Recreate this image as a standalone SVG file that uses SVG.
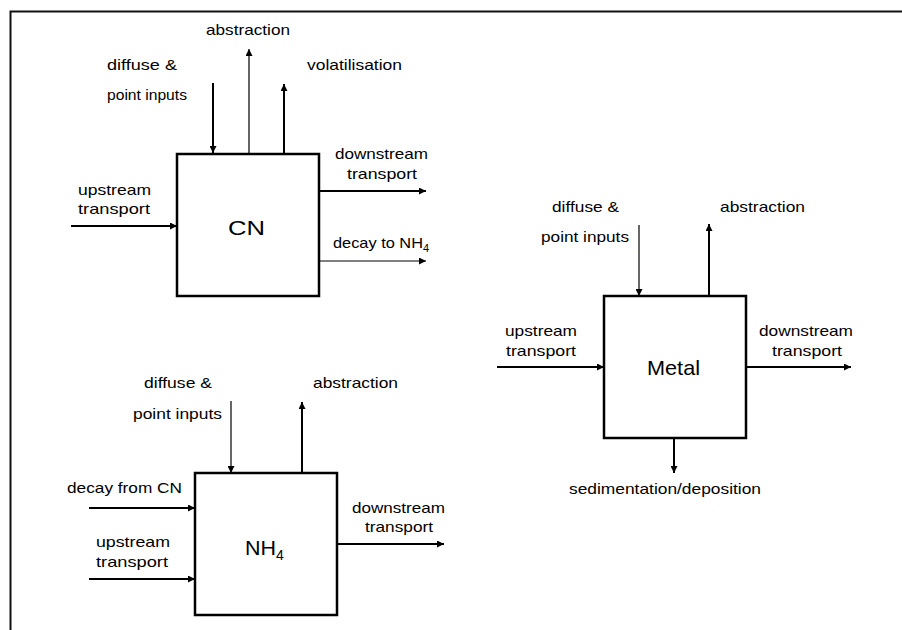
<svg xmlns="http://www.w3.org/2000/svg" width="902" height="630" viewBox="0 0 902 630">
<style>
text{font-family:"Liberation Sans",Arial,sans-serif;font-size:15px;fill:#000}
.big{font-size:21px}
.box{fill:#fff;stroke:#000;stroke-width:2.5}
.a{fill:none;stroke:#000;stroke-width:2;marker-end:url(#ah)}
.t{fill:none;stroke:#000;stroke-width:1.2;marker-end:url(#ah)}
.frame{fill:none;stroke:#111;stroke-width:2}
</style>
<defs>
<marker id="ah" markerUnits="userSpaceOnUse" markerWidth="8" markerHeight="7" refX="7" refY="3.5" orient="auto">
<path d="M0,0 L7,3.5 L0,7 Z" fill="#000"/>
</marker>
</defs>
<rect width="902" height="630" fill="#fff"/>
<path class="frame" d="M10.5,630 V11.5 H902"/>
<g id="connectors">
<!-- CN -->
<line class="a" x1="213" y1="83" x2="213" y2="153"/>
<line class="t" x1="249" y1="153" x2="249" y2="49"/>
<line class="a" x1="284" y1="153" x2="284" y2="84"/>
<line class="a" x1="319" y1="191" x2="426" y2="191"/>
<line class="t" x1="319" y1="261" x2="426" y2="261"/>
<line class="a" x1="71" y1="226" x2="177" y2="226"/>
<!-- Metal -->
<line class="t" x1="639" y1="225" x2="639" y2="296"/>
<line class="a" x1="709" y1="296" x2="709" y2="224"/>
<line class="a" x1="497" y1="367" x2="604" y2="367"/>
<line class="a" x1="746" y1="367" x2="851" y2="367"/>
<line class="a" x1="674" y1="438" x2="674" y2="473"/>
<!-- NH4 -->
<line class="t" x1="231" y1="401" x2="231" y2="473"/>
<line class="a" x1="302" y1="473" x2="302" y2="402"/>
<line class="a" x1="89" y1="508" x2="195" y2="508"/>
<line class="a" x1="89" y1="579" x2="195" y2="579"/>
<line class="a" x1="337" y1="544" x2="444" y2="544"/>
</g>
<g id="cn">
<rect class="box" x="177" y="154" width="142" height="142"/>
<text class="big" x="228" y="235" textLength="37" lengthAdjust="spacingAndGlyphs">CN</text>
<text x="107" y="70" textLength="70" lengthAdjust="spacingAndGlyphs">diffuse &amp;</text>
<text x="107" y="100" textLength="80" lengthAdjust="spacingAndGlyphs">point inputs</text>
<text x="206" y="35" textLength="84" lengthAdjust="spacingAndGlyphs">abstraction</text>
<text x="307" y="70" textLength="95" lengthAdjust="spacingAndGlyphs">volatilisation</text>
<text x="335" y="159" textLength="93" lengthAdjust="spacingAndGlyphs">downstream</text>
<text x="347" y="179" textLength="70" lengthAdjust="spacingAndGlyphs">transport</text>
<text x="78" y="195" textLength="73" lengthAdjust="spacingAndGlyphs">upstream</text>
<text x="78" y="214" textLength="72" lengthAdjust="spacingAndGlyphs">transport</text>
<text x="333" y="248"><tspan textLength="90" lengthAdjust="spacingAndGlyphs">decay to NH</tspan><tspan font-size="11" dy="4">4</tspan></text>
</g>
<g id="metal">
<rect class="box" x="604" y="296" width="142" height="142"/>
<text class="big" x="647" y="375" textLength="53" lengthAdjust="spacingAndGlyphs">Metal</text>
<text x="552" y="212" textLength="67" lengthAdjust="spacingAndGlyphs">diffuse &amp;</text>
<text x="541" y="242" textLength="88" lengthAdjust="spacingAndGlyphs">point inputs</text>
<text x="720" y="212" textLength="85" lengthAdjust="spacingAndGlyphs">abstraction</text>
<text x="505" y="336" textLength="72" lengthAdjust="spacingAndGlyphs">upstream</text>
<text x="506" y="356" textLength="70" lengthAdjust="spacingAndGlyphs">transport</text>
<text x="759" y="336" textLength="94" lengthAdjust="spacingAndGlyphs">downstream</text>
<text x="772" y="356" textLength="70" lengthAdjust="spacingAndGlyphs">transport</text>
<text x="569" y="494" textLength="192" lengthAdjust="spacingAndGlyphs">sedimentation/deposition</text>
</g>
<g id="nh4">
<rect class="box" x="195" y="473" width="142" height="142"/>
<text class="big" x="245" y="555"><tspan textLength="31" lengthAdjust="spacingAndGlyphs">NH</tspan><tspan font-size="14" dy="5">4</tspan></text>
<text x="144" y="388" textLength="68" lengthAdjust="spacingAndGlyphs">diffuse &amp;</text>
<text x="133" y="419" textLength="89" lengthAdjust="spacingAndGlyphs">point inputs</text>
<text x="313" y="388" textLength="85" lengthAdjust="spacingAndGlyphs">abstraction</text>
<text x="67" y="493" textLength="115" lengthAdjust="spacingAndGlyphs">decay from CN</text>
<text x="96" y="547" textLength="74" lengthAdjust="spacingAndGlyphs">upstream</text>
<text x="96" y="567" textLength="72" lengthAdjust="spacingAndGlyphs">transport</text>
<text x="352" y="513" textLength="93" lengthAdjust="spacingAndGlyphs">downstream</text>
<text x="365" y="532" textLength="68" lengthAdjust="spacingAndGlyphs">transport</text>
</g>
</svg>
